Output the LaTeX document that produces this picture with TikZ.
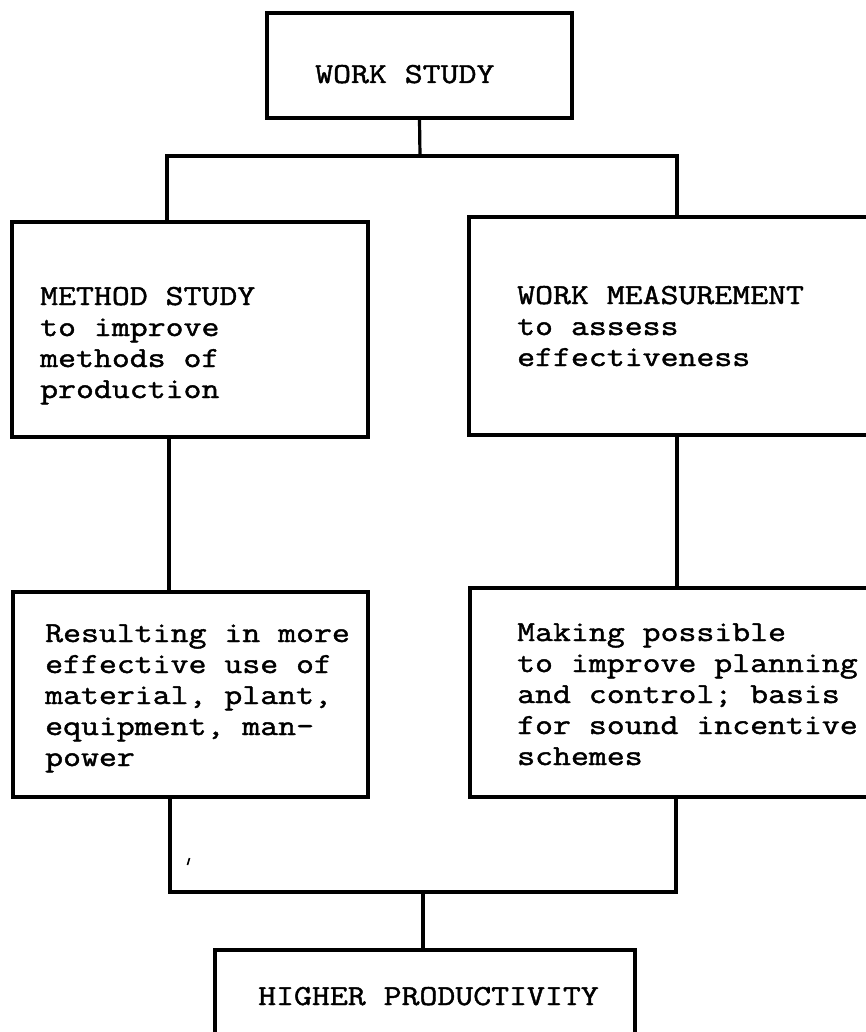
\documentclass[tikz,border=0pt]{standalone}
\usepackage{fontspec}
\newfontfamily\typewriter{Latin Modern Mono}[FakeStretch=1.2,FakeBold=1.5]
\begin{document}
\begin{tikzpicture}[x=1pt,y=-1pt,
  box/.style={draw=black,line width=3.4pt,rectangle,inner sep=0pt,fill=none},
  conn/.style={draw=black,line width=3.2pt},
  label/.style={inner sep=0pt,align=left,anchor=base west,
    font=\typewriter\fontsize{29}{31}\selectfont}]
\useasboundingbox (0,0) rectangle (866,1032);
\clip (0,0) rectangle (866,1032);

% boxes
\node[box,minimum width=305,minimum height=105] (ws) at (419.5,65.5) {};
\node[box,minimum width=356,minimum height=215] (ms) at (190,329.5) {};
\node[box,minimum width=460,minimum height=218] (wm) at (699,326) {};
\node[box,minimum width=355,minimum height=205] (rl) at (190.5,694.5) {};
\node[box,minimum width=460,minimum height=209] (rr) at (700,692.5) {};
\node[box,minimum width=420,minimum height=160] (hp) at (425,1030) {};

% texts (multi-line labels are placed by the baseline of their last line)
\node[label] (tws) at (315,83) {WORK STUDY};
\node[label] (tms) at (40,398) {METHOD STUDY\\to improve\\methods of\\production};
\node[label] (twm) at (517,366) {WORK MEASUREMENT\\to assess\\effectiveness};
\node[label] (trl) at (45,766) {Resulting in more\\effective use of\\material, plant,\\equipment, man-\\power};
\node[label] (trr) at (517,765) {Making possible\\to improve planning\\and control; basis\\for sound incentive\\schemes};
\node[label] (thp) at (258,1005) {HIGHER PRODUCTIVITY};

% junction points
\coordinate (jt) at (420,156);
\coordinate (tl) at (167,156);
\coordinate (tr) at (677,156);
\coordinate (ml) at (169,500);
\coordinate (mr) at (677,500);
\coordinate (bl) at (170,892);
\coordinate (br) at (676,892);
\coordinate (jb) at (423,892);

% connectors
\draw[conn] (ws.south) -- (jt);
\draw[conn] (ms.north -| tl) -- (tl) -- (tr) -- (wm.north -| tr);
\draw[conn] (ms.south -| ml) -- (rl.north -| ml);
\draw[conn] (wm.south -| mr) -- (rr.north -| mr);
\draw[conn] (rl.south -| bl) -- (bl) -- (br) -- (rr.south -| br);
\draw[conn] (jb) -- (hp.north -| jb);

% small stroke below the left box
\coordinate (sa) at (187.5,865);
\coordinate (sb) at (189.5,858);
\draw[line width=1.6pt] (sa) -- (sb);
\end{tikzpicture}
\end{document}
